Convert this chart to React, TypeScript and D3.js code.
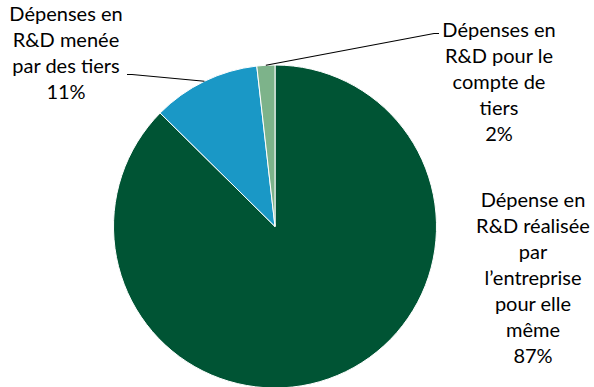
import React from "react";
import * as d3 from "d3";

const categories = [
  "Dépense en R&D réalisée par l’entreprise pour elle même",
  "Dépenses en R&D menée par des tiers",
  "Dépenses en R&D pour le compte de tiers",
];
const values = [87.4, 10.8, 1.8];
const percentLabels = ["87%", "11%", "2%"];
const labelLines = [
  ["Dépense en", "R&D réalisée", "par", "l’entreprise", "pour elle", "même"],
  ["Dépenses en", "R&D menée", "par des tiers"],
  ["Dépenses en", "R&D pour le", "compte de", "tiers"],
];
const colors = ["#005434", "#1A98C6", "#7DB38A"];

const W = 594;
const H = 387;
const cx = 275;
const cy = 226.5;
const R = 161.5;
const LH = 26;
const FONT = "Lato, 'Open Sans', sans-serif";
const FS = 20;

// label anchor positions (centre x, first baseline y)
const labelPos = [
  { x: 533, y: 207 },
  { x: 66, y: 21 },
  { x: 499, y: 37 },
];

export default function App() {
  const pie = d3
    .pie<number>()
    .sort(null)
    .value((d) => d)
    .startAngle(0)
    .endAngle(2 * Math.PI);
  const arcs = pie(values);
  const arc = d3.arc<d3.PieArcDatum<number>>().innerRadius(0).outerRadius(R);
  const outer = (a: d3.PieArcDatum<number>, k: number) => {
    const m = (a.startAngle + a.endAngle) / 2;
    return [cx + Math.sin(m) * R * k, cy - Math.cos(m) * R * k];
  };

  // leader lines for the two small slices
  const p1 = outer(arcs[1], 1.0);
  const p2 = outer(arcs[2], 1.0);
  const leader1 = d3.line()([
    [p1[0], p1[1]],
    [132, 74.5],
    [127, 74.5],
  ]);
  const leader2 = d3.line()([
    [p2[0], p2[1]],
    [434, 33.5],
    [439, 33.5],
  ]);

  return (
    <svg
      width={W}
      height={H}
      style={{ position: "absolute", left: 0, top: 0, background: "#fff" }}
    >
      <g transform={`translate(${cx},${cy})`}>
        {arcs.map((a, i) => (
          <path
            key={categories[i]}
            d={arc(a) || ""}
            fill={colors[i]}
            stroke="#fff"
            strokeWidth={1}
          />
        ))}
      </g>
      <path d={leader1 || ""} fill="none" stroke="#000" strokeWidth={1.2} />
      <path d={leader2 || ""} fill="none" stroke="#000" strokeWidth={1.2} />
      {labelLines.map((lines, i) => (
        <text
          key={i}
          fontFamily={FONT}
          fontSize={FS}
          fill="#000"
          textAnchor="middle"
        >
          {[...lines, percentLabels[i]].map((t, j) => (
            <tspan key={j} x={labelPos[i].x} y={labelPos[i].y + j * LH}>
              {t}
            </tspan>
          ))}
        </text>
      ))}
    </svg>
  );
}
